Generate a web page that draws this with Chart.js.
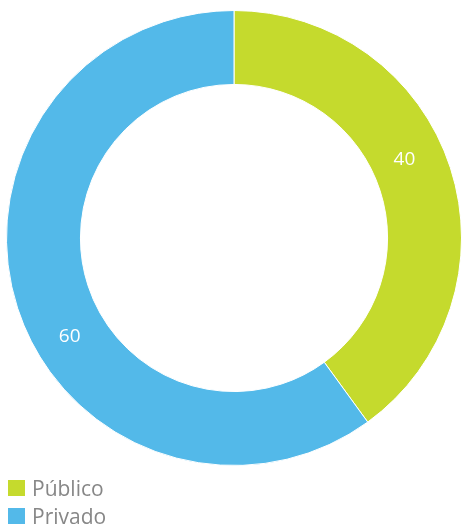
<!DOCTYPE html>
<html>
<head>
<meta charset="utf-8">
<script src="https://cdn.jsdelivr.net/npm/chart.js@4.4.1/dist/chart.umd.min.js"></script>
<style>
  html, body { margin: 0; padding: 0; background: #ffffff; }
  #wrap { position: relative; width: 462px; height: 476px; }
  #legend { position: absolute; left: 8px; top: 474px; font-family: "Open Sans", sans-serif; font-size: 21px; color: #878787; }
  #legend .item { display: flex; align-items: center; height: 28px; }
  #legend .box { width: 17px; height: 16px; margin-right: 7px; }
</style>
</head>
<body>
<div id="wrap"><canvas id="c" width="462" height="476"></canvas></div>
<div id="legend"></div>
<script>
const categories = ['Público', 'Privado'];
const values = [40, 60];
const colors = ['#c5da2d', '#53b9e9'];

// Writes each slice's value inside its ring segment
const sliceLabels = {
  id: 'sliceLabels',
  afterDatasetsDraw(chart) {
    const ctx = chart.ctx;
    const meta = chart.getDatasetMeta(0);
    ctx.save();
    ctx.fillStyle = '#ffffff';
    ctx.font = '19px "Open Sans", sans-serif';
    ctx.textAlign = 'center';
    ctx.textBaseline = 'middle';
    meta.data.forEach((arc, i) => {
      const p = arc.getProps(['x', 'y', 'startAngle', 'endAngle', 'innerRadius', 'outerRadius'], true);
      const a = p.startAngle + (p.endAngle - p.startAngle) * 0.445;
      const r = (p.innerRadius + p.outerRadius) / 2 - 1;
      ctx.fillText(String(values[i]), p.x + Math.cos(a) * r, p.y + Math.sin(a) * r + 4);
    });
    ctx.restore();
  }
};

new Chart(document.getElementById('c'), {
  type: 'doughnut',
  data: {
    labels: categories,
    datasets: [{
      data: values,
      backgroundColor: colors,
      borderColor: '#ffffff',
      borderWidth: 1
    }]
  },
  options: {
    responsive: false,
    animation: false,
    cutout: '67.5%',
    layout: { padding: { left: 6, right: 0, top: 10, bottom: 10 } },
    plugins: {
      legend: { display: false },
      tooltip: { enabled: false }
    }
  },
  plugins: [sliceLabels]
});

// Legend entries listed below the ring
const legend = document.getElementById('legend');
categories.forEach((name, i) => {
  const item = document.createElement('div');
  item.className = 'item';
  const box = document.createElement('span');
  box.className = 'box';
  box.style.background = colors[i];
  const txt = document.createElement('span');
  txt.textContent = name;
  item.appendChild(box);
  item.appendChild(txt);
  legend.appendChild(item);
});
</script>
</body>
</html>
